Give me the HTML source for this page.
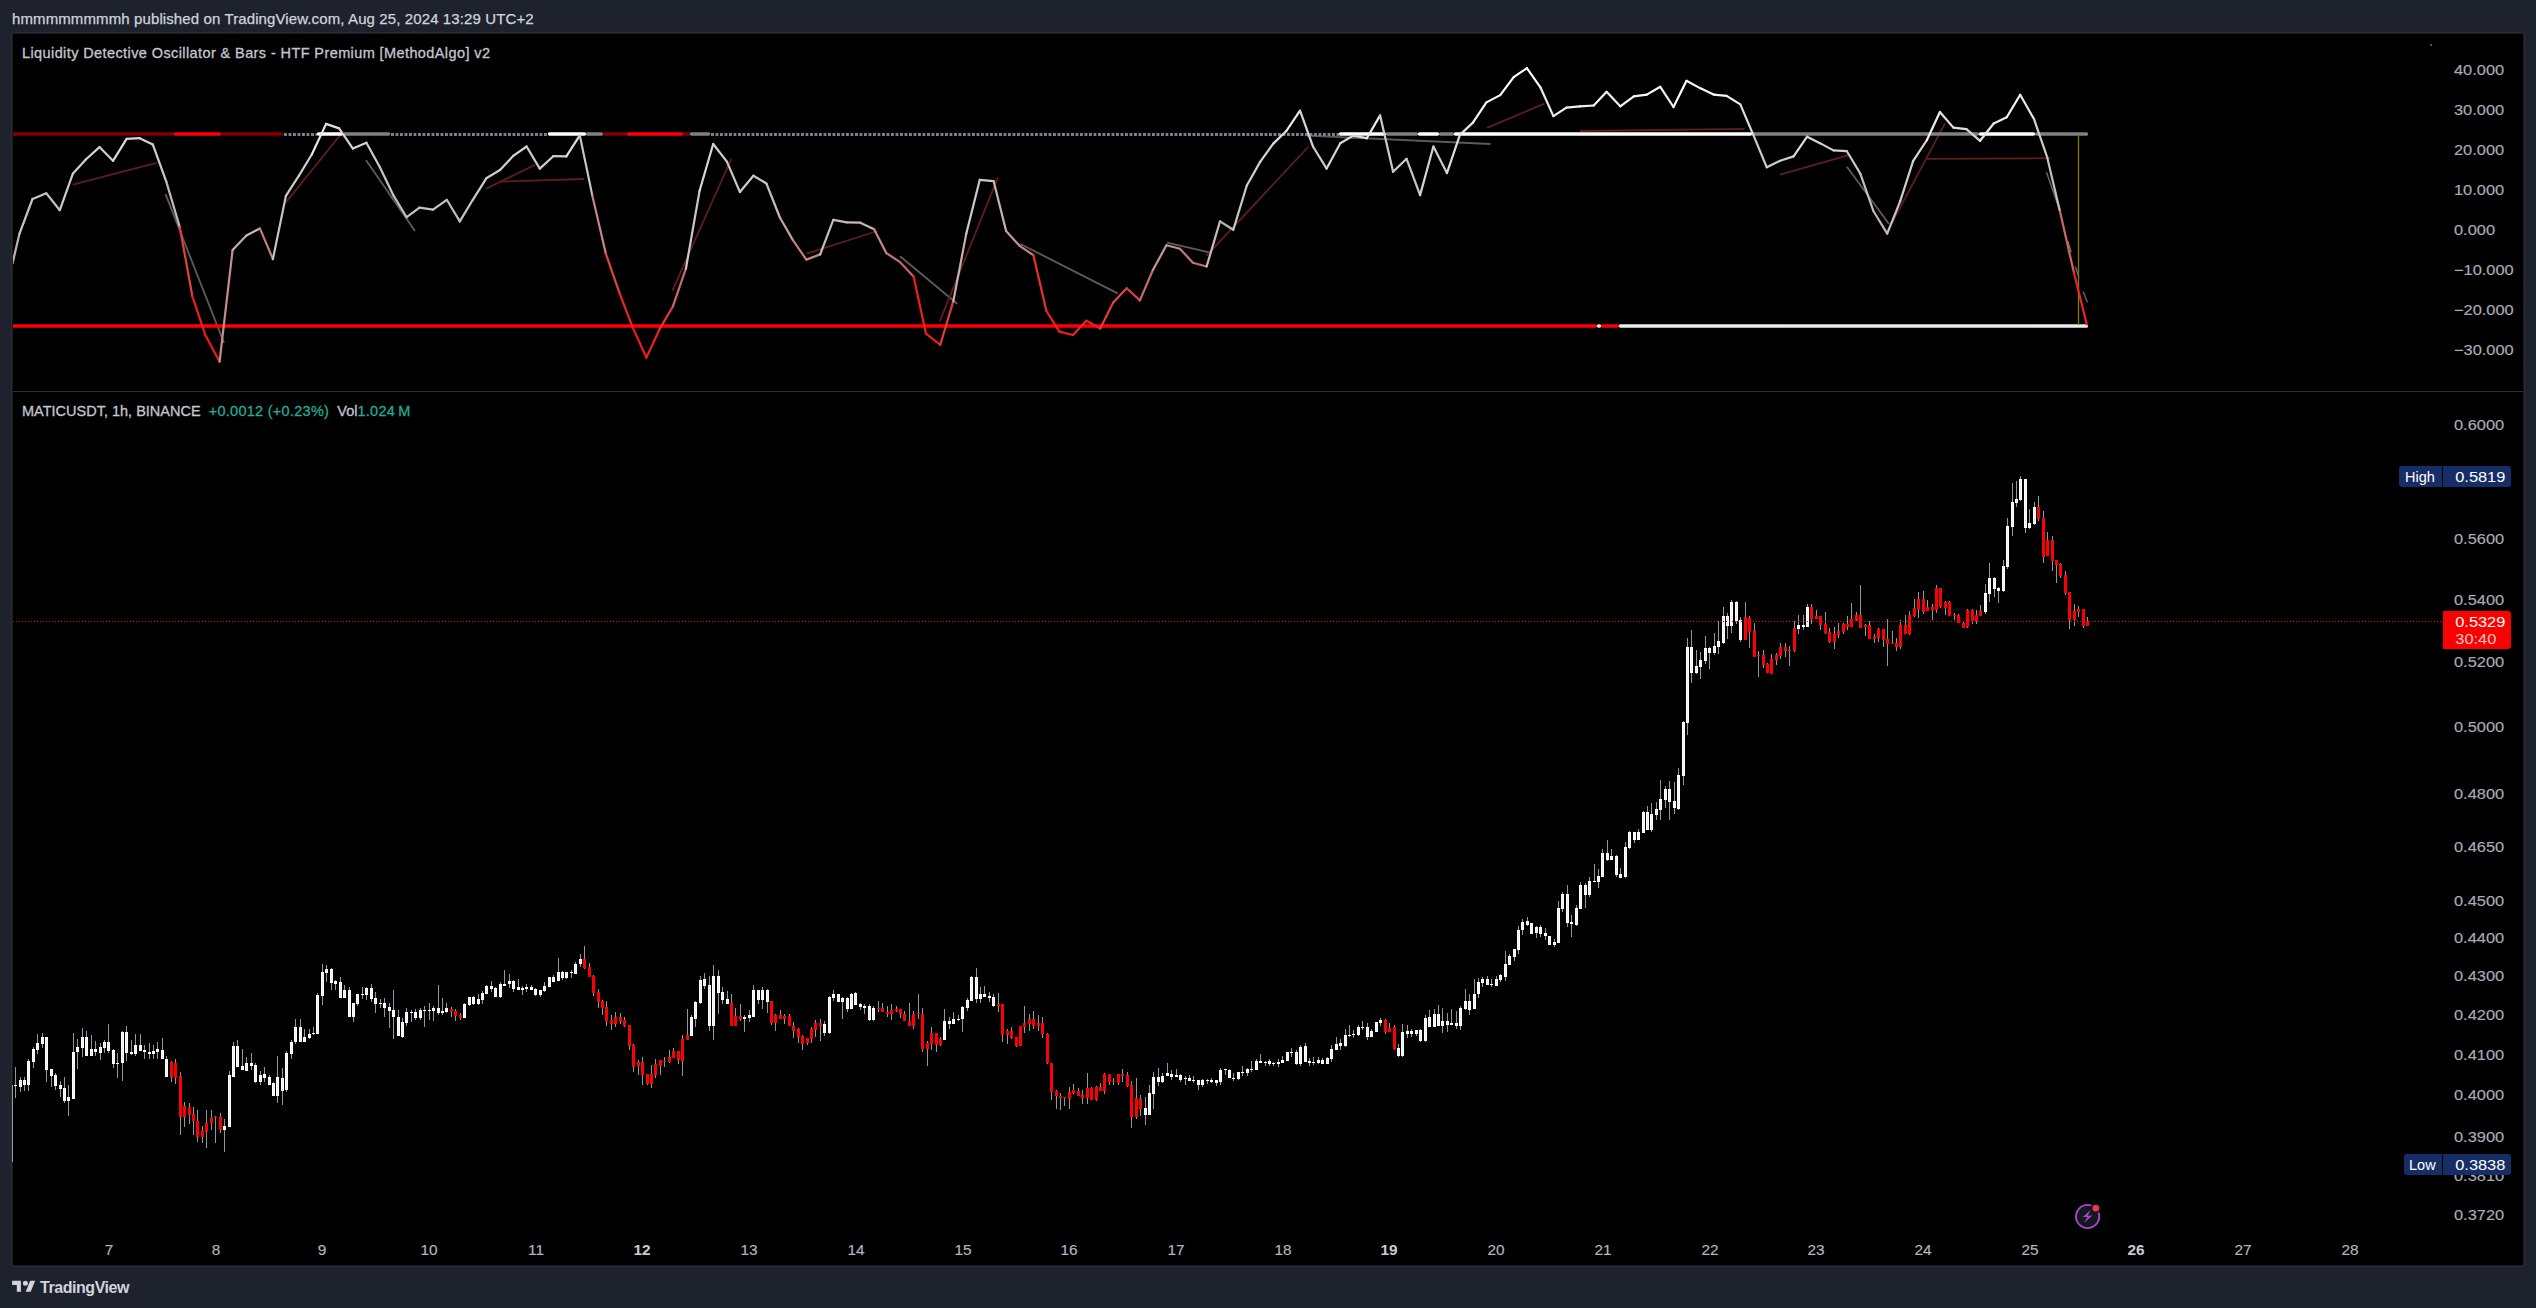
<!DOCTYPE html>
<html><head><meta charset="utf-8"><title>MATICUSDT chart</title>
<style>
html,body{margin:0;padding:0;}
body{width:2536px;height:1308px;background:#1e222d;position:relative;overflow:hidden;font-family:"Liberation Sans",Arial,sans-serif;}
.hdr{position:absolute;left:12px;top:10px;font-size:15px;letter-spacing:0.11px;color:#d1d4dc;white-space:nowrap;line-height:18px;-webkit-text-stroke:0.25px #d1d4dc;}
.frame{position:absolute;left:11px;top:32px;width:2514px;height:1235px;background:#2a2e39;border-radius:3px;}
.inner{position:absolute;left:12px;top:33px;width:2512px;height:1233px;background:#16181e;border-radius:2px;}
.black{position:absolute;left:13px;top:34px;width:2510px;height:1231px;background:#000;}
.sep{position:absolute;left:13px;top:391px;width:2510px;height:1px;background:#2a2e39;}
.chart{position:absolute;left:0;top:0;}
.title{position:absolute;left:22px;top:43.5px;font-size:14.5px;letter-spacing:0.4px;color:#c3c6cf;-webkit-text-stroke:0.3px #c3c6cf;white-space:nowrap;line-height:18px;}
.legend{position:absolute;left:22px;top:402px;font-size:14.5px;color:#c3c6cf;-webkit-text-stroke:0.3px currentColor;white-space:nowrap;line-height:18px;}
.legend .g{color:#22ab94;letter-spacing:0.28px;}
.pl{position:absolute;left:2454.3px;font-size:14.5px;color:#a9acb5;-webkit-text-stroke:0.15px #a9acb5;line-height:18px;white-space:nowrap;transform:scaleX(1.13);transform-origin:0 50%;}
.sx{display:inline-block;transform:scaleX(1.13);transform-origin:100% 50%;}
.tl{position:absolute;top:1241px;width:60px;text-align:center;font-size:14px;transform:scaleX(1.1);color:#b2b5be;-webkit-text-stroke:0.15px #b2b5be;line-height:18px;}
.tl.b{color:#c9ccd4;font-weight:bold;-webkit-text-stroke:0;}
.tag{position:absolute;height:21px;border-radius:3px;font-size:14.5px;line-height:22px;color:#fff;white-space:nowrap;}
.logo{position:absolute;left:12px;top:1279px;height:14px;}
.logot{position:absolute;left:40px;top:1279px;font-size:16px;font-weight:bold;letter-spacing:-0.45px;color:#d1d4dc;line-height:18px;}
</style></head><body>
<div class="hdr">hmmmmmmmmh published on TradingView.com, Aug 25, 2024 13:29 UTC+2</div>
<div class="frame"></div>
<div class="inner"></div>
<div class="black"></div>
<div class="sep"></div>
<svg class="chart" width="2536" height="1308" viewBox="0 0 2536 1308">
<defs><clipPath id="cp1"><rect x="13" y="34" width="2410" height="356"/></clipPath>
<clipPath id="cp2"><rect x="13" y="393" width="2410" height="872"/></clipPath></defs>
<g clip-path="url(#cp1)">
<g stroke-width="1.8" fill="none"><line x1="72.8" y1="184.7" x2="156.7" y2="162.9" stroke="#5e1e1e"/><line x1="165.5" y1="194.1" x2="224" y2="342.8" stroke="#5c5c5c"/><line x1="285.9" y1="202.4" x2="342.5" y2="132.3" stroke="#5e1e1e"/><line x1="365.9" y1="160" x2="415" y2="231" stroke="#5c5c5c"/><line x1="486.3" y1="188.6" x2="535.1" y2="164.7" stroke="#5e1e1e"/><line x1="500" y1="181.6" x2="584" y2="179" stroke="#5e1e1e"/><line x1="672.3" y1="290.8" x2="731.3" y2="159" stroke="#5e1e1e"/><line x1="806.7" y1="253.6" x2="877.4" y2="231" stroke="#5e1e1e"/><line x1="900" y1="256.2" x2="957.2" y2="303.8" stroke="#5c5c5c"/><line x1="939.8" y1="321.4" x2="998" y2="177.2" stroke="#5e1e1e"/><line x1="1020.4" y1="244" x2="1117.6" y2="293.4" stroke="#5c5c5c"/><line x1="1167" y1="242.7" x2="1210.4" y2="252.6" stroke="#5c5c5c"/><line x1="1206.5" y1="255.7" x2="1308.6" y2="146.5" stroke="#5e1e1e"/><line x1="1306.5" y1="135.6" x2="1490.5" y2="144" stroke="#5c5c5c"/><line x1="1487" y1="127.8" x2="1544.3" y2="103.7" stroke="#5e1e1e"/><line x1="1580" y1="131" x2="1744.7" y2="128.9" stroke="#5e1e1e"/><line x1="1780.1" y1="174.6" x2="1849.5" y2="154.9" stroke="#5e1e1e"/><line x1="1846.9" y1="166.8" x2="1889" y2="224" stroke="#5c5c5c"/><line x1="1887.2" y1="231.8" x2="1945.1" y2="123.2" stroke="#5e1e1e"/><line x1="1926.9" y1="158.8" x2="2050.4" y2="158.2" stroke="#5e1e1e"/></g>
<g><line x1="13.5" y1="134" x2="172.5" y2="134" stroke="#800000" stroke-width="3.5" stroke-linecap="round"/><line x1="175.5" y1="134" x2="219.5" y2="134" stroke="#ff0000" stroke-width="3.5" stroke-linecap="round"/><line x1="222.5" y1="134" x2="281.5" y2="134" stroke="#800000" stroke-width="3.5" stroke-linecap="round"/><line x1="284" y1="134.5" x2="317" y2="134.5" stroke="#7d8090" stroke-width="3" stroke-dasharray="2.9 1.6"/><line x1="318.5" y1="134" x2="341.5" y2="134" stroke="#ffffff" stroke-width="3.5" stroke-linecap="round"/><line x1="344.5" y1="134" x2="388.5" y2="134" stroke="#808080" stroke-width="3.5" stroke-linecap="round"/><line x1="391" y1="134.5" x2="548" y2="134.5" stroke="#7d8090" stroke-width="3" stroke-dasharray="2.9 1.6"/><line x1="549.5" y1="134" x2="584.5" y2="134" stroke="#ffffff" stroke-width="3.5" stroke-linecap="round"/><line x1="587.5" y1="134" x2="601.5" y2="134" stroke="#808080" stroke-width="3.5" stroke-linecap="round"/><line x1="604.5" y1="134" x2="625.5" y2="134" stroke="#800000" stroke-width="3.5" stroke-linecap="round"/><line x1="628.5" y1="134" x2="681.5" y2="134" stroke="#ff0000" stroke-width="3.5" stroke-linecap="round"/><line x1="684.5" y1="134" x2="688.5" y2="134" stroke="#800000" stroke-width="3.5" stroke-linecap="round"/><line x1="691.5" y1="134" x2="708.5" y2="134" stroke="#808080" stroke-width="3.5" stroke-linecap="round"/><line x1="711" y1="134.5" x2="1339" y2="134.5" stroke="#7d8090" stroke-width="3" stroke-dasharray="2.9 1.6"/><line x1="1340.5" y1="134" x2="1384.5" y2="134" stroke="#ffffff" stroke-width="3.5" stroke-linecap="round"/><line x1="1387.5" y1="134" x2="1416.5" y2="134" stroke="#808080" stroke-width="3.5" stroke-linecap="round"/><line x1="1419.5" y1="134" x2="1437.5" y2="134" stroke="#ffffff" stroke-width="3.5" stroke-linecap="round"/><line x1="1440.5" y1="134" x2="1452.5" y2="134" stroke="#808080" stroke-width="3.5" stroke-linecap="round"/><line x1="1455.5" y1="134" x2="1750.5" y2="134" stroke="#ffffff" stroke-width="3.5" stroke-linecap="round"/><line x1="1753.5" y1="134" x2="1977.5" y2="134" stroke="#808080" stroke-width="3.5" stroke-linecap="round"/><line x1="1980.5" y1="134" x2="2033.5" y2="134" stroke="#ffffff" stroke-width="3.5" stroke-linecap="round"/><line x1="2036.5" y1="134" x2="2086.5" y2="134" stroke="#808080" stroke-width="3.5" stroke-linecap="round"/></g>
<g><line x1="13.5" y1="326" x2="1595.5" y2="326" stroke="#ff0000" stroke-width="3.5" stroke-linecap="round"/><line x1="1598.5" y1="326" x2="1599.5" y2="326" stroke="#ebebeb" stroke-width="3.5" stroke-linecap="round"/><line x1="1602.5" y1="326" x2="1617.5" y2="326" stroke="#ff0000" stroke-width="3.5" stroke-linecap="round"/><line x1="1620.5" y1="326" x2="2086.5" y2="326" stroke="#ebebeb" stroke-width="3.5" stroke-linecap="round"/></g>
<line x1="2078.5" y1="134" x2="2078.5" y2="325" stroke="#8a7414" stroke-width="1.3"/>
<g stroke="#6a6a6a" stroke-width="1.4"><line x1="2046.5" y1="172.3" x2="2060" y2="211"/><line x1="2067.9" y1="241.2" x2="2071.2" y2="252.2"/><line x1="2075.3" y1="266.5" x2="2079" y2="277.5"/><line x1="2083.2" y1="291.8" x2="2087.4" y2="302.2"/></g>
<g stroke-width="2.2" stroke-linecap="round" fill="none"><line x1="12.5" y1="263.5" x2="19.5" y2="233.6" stroke="rgb(198,175,175)"/><line x1="19.5" y1="233.6" x2="32.5" y2="199" stroke="rgb(200,196,196)"/><line x1="32.5" y1="199" x2="46.3" y2="193.3" stroke="rgb(200,199,199)"/><line x1="46.3" y1="193.3" x2="59.8" y2="210.2" stroke="rgb(199,191,191)"/><line x1="59.8" y1="210.2" x2="72.8" y2="173.8" stroke="rgb(203,203,203)"/><line x1="72.8" y1="173.8" x2="85.8" y2="159.5" stroke="rgb(206,206,206)"/><line x1="85.8" y1="159.5" x2="99.5" y2="147.1" stroke="rgb(210,210,210)"/><line x1="99.5" y1="147.1" x2="113" y2="160.8" stroke="rgb(206,206,206)"/><line x1="113" y1="160.8" x2="126.6" y2="138.8" stroke="rgb(217,217,217)"/><line x1="126.6" y1="138.8" x2="139.6" y2="138.2" stroke="rgb(217,217,217)"/><line x1="139.6" y1="138.2" x2="152.8" y2="144.5" stroke="rgb(212,212,212)"/><line x1="152.8" y1="144.5" x2="166.3" y2="181.6" stroke="rgb(202,202,202)"/><line x1="166.3" y1="181.6" x2="179.8" y2="227.1" stroke="rgb(198,183,183)"/><line x1="179.8" y1="227.1" x2="192.3" y2="296" stroke="rgb(226,63,63)"/><line x1="192.3" y1="296" x2="205.3" y2="335" stroke="rgb(240,29,29)"/><line x1="205.3" y1="335" x2="219.6" y2="361.7" stroke="rgb(240,26,26)"/><line x1="219.6" y1="361.7" x2="232.6" y2="250" stroke="rgb(196,142,142)"/><line x1="232.6" y1="250" x2="246.4" y2="235.4" stroke="rgb(197,171,171)"/><line x1="246.4" y1="235.4" x2="259.9" y2="228.4" stroke="rgb(198,183,183)"/><line x1="259.9" y1="228.4" x2="272.9" y2="259.1" stroke="rgb(195,124,124)"/><line x1="272.9" y1="259.1" x2="285.9" y2="195.9" stroke="rgb(200,197,197)"/><line x1="285.9" y1="195.9" x2="298.9" y2="175.7" stroke="rgb(203,203,203)"/><line x1="298.9" y1="175.7" x2="311.9" y2="154.3" stroke="rgb(207,207,207)"/><line x1="311.9" y1="154.3" x2="326.1" y2="123.9" stroke="rgb(229,229,229)"/><line x1="326.1" y1="123.9" x2="339.1" y2="128.4" stroke="rgb(225,225,225)"/><line x1="339.1" y1="128.4" x2="352.9" y2="148.6" stroke="rgb(209,209,209)"/><line x1="352.9" y1="148.6" x2="366.4" y2="142.7" stroke="rgb(214,214,214)"/><line x1="366.4" y1="142.7" x2="379.9" y2="167.3" stroke="rgb(205,205,205)"/><line x1="379.9" y1="167.3" x2="393.7" y2="195.9" stroke="rgb(200,197,197)"/><line x1="393.7" y1="195.9" x2="406.7" y2="217.2" stroke="rgb(199,188,188)"/><line x1="406.7" y1="217.2" x2="419.5" y2="207.6" stroke="rgb(199,192,192)"/><line x1="419.5" y1="207.6" x2="433" y2="209.7" stroke="rgb(199,191,191)"/><line x1="433" y1="209.7" x2="446.8" y2="199.8" stroke="rgb(200,196,196)"/><line x1="446.8" y1="199.8" x2="459.8" y2="221.4" stroke="rgb(198,186,186)"/><line x1="459.8" y1="221.4" x2="472.8" y2="199.8" stroke="rgb(200,196,196)"/><line x1="472.8" y1="199.8" x2="486.3" y2="178.3" stroke="rgb(202,202,202)"/><line x1="486.3" y1="178.3" x2="500" y2="170" stroke="rgb(204,204,204)"/><line x1="500" y1="170" x2="513.6" y2="155.6" stroke="rgb(207,207,207)"/><line x1="513.6" y1="155.6" x2="526.6" y2="146.5" stroke="rgb(211,211,211)"/><line x1="526.6" y1="146.5" x2="539.8" y2="168.6" stroke="rgb(204,204,204)"/><line x1="539.8" y1="168.6" x2="553.3" y2="156.2" stroke="rgb(207,207,207)"/><line x1="553.3" y1="156.2" x2="566.3" y2="156.4" stroke="rgb(207,207,207)"/><line x1="566.3" y1="156.4" x2="579.8" y2="135.4" stroke="rgb(220,220,220)"/><line x1="579.8" y1="135.4" x2="592.3" y2="195.4" stroke="rgb(200,198,198)"/><line x1="592.3" y1="195.4" x2="605.8" y2="253.6" stroke="rgb(196,135,135)"/><line x1="605.8" y1="253.6" x2="619.6" y2="293.4" stroke="rgb(224,66,66)"/><line x1="619.6" y1="293.4" x2="632.6" y2="327.2" stroke="rgb(239,33,33)"/><line x1="632.6" y1="327.2" x2="646.4" y2="357.6" stroke="rgb(240,26,26)"/><line x1="646.4" y1="357.6" x2="659.9" y2="328.5" stroke="rgb(239,31,31)"/><line x1="659.9" y1="328.5" x2="672.9" y2="306.4" stroke="rgb(230,53,53)"/><line x1="672.9" y1="306.4" x2="685.9" y2="268.7" stroke="rgb(201,106,106)"/><line x1="685.9" y1="268.7" x2="699.6" y2="190.7" stroke="rgb(200,200,200)"/><line x1="699.6" y1="190.7" x2="713.2" y2="144" stroke="rgb(213,213,213)"/><line x1="713.2" y1="144" x2="726.9" y2="161.6" stroke="rgb(206,206,206)"/><line x1="726.9" y1="161.6" x2="739.9" y2="192" stroke="rgb(200,199,199)"/><line x1="739.9" y1="192" x2="753.4" y2="175.7" stroke="rgb(203,203,203)"/><line x1="753.4" y1="175.7" x2="766.4" y2="183.5" stroke="rgb(201,201,201)"/><line x1="766.4" y1="183.5" x2="779.9" y2="217.5" stroke="rgb(199,188,188)"/><line x1="779.9" y1="217.5" x2="792.9" y2="240.1" stroke="rgb(197,162,162)"/><line x1="792.9" y1="240.1" x2="806.3" y2="259.6" stroke="rgb(195,123,123)"/><line x1="806.3" y1="259.6" x2="820.2" y2="254.4" stroke="rgb(196,133,133)"/><line x1="820.2" y1="254.4" x2="833.3" y2="219.8" stroke="rgb(199,187,187)"/><line x1="833.3" y1="219.8" x2="846.8" y2="222.4" stroke="rgb(198,185,185)"/><line x1="846.8" y1="222.4" x2="860.3" y2="222.7" stroke="rgb(198,185,185)"/><line x1="860.3" y1="222.7" x2="874.1" y2="229.2" stroke="rgb(198,182,182)"/><line x1="874.1" y1="229.2" x2="886.3" y2="253.1" stroke="rgb(196,136,136)"/><line x1="886.3" y1="253.1" x2="900.1" y2="262.2" stroke="rgb(195,118,118)"/><line x1="900.1" y1="262.2" x2="913.6" y2="276.5" stroke="rgb(209,93,93)"/><line x1="913.6" y1="276.5" x2="926" y2="333.7" stroke="rgb(240,30,30)"/><line x1="926" y1="333.7" x2="940.3" y2="344.8" stroke="rgb(240,28,28)"/><line x1="940.3" y1="344.8" x2="953.3" y2="301.2" stroke="rgb(228,58,58)"/><line x1="953.3" y1="301.2" x2="966.3" y2="233.6" stroke="rgb(198,175,175)"/><line x1="966.3" y1="233.6" x2="979.8" y2="179.8" stroke="rgb(202,202,202)"/><line x1="979.8" y1="179.8" x2="993.6" y2="181.1" stroke="rgb(202,202,202)"/><line x1="993.6" y1="181.1" x2="1006.1" y2="231" stroke="rgb(198,180,180)"/><line x1="1006.1" y1="231" x2="1019.6" y2="245.8" stroke="rgb(197,150,150)"/><line x1="1019.6" y1="245.8" x2="1033.4" y2="255.2" stroke="rgb(196,132,132)"/><line x1="1033.4" y1="255.2" x2="1046.4" y2="311" stroke="rgb(232,48,48)"/><line x1="1046.4" y1="311" x2="1059.4" y2="331.6" stroke="rgb(240,30,30)"/><line x1="1059.4" y1="331.6" x2="1072.9" y2="335" stroke="rgb(240,29,29)"/><line x1="1072.9" y1="335" x2="1086.4" y2="320.7" stroke="rgb(236,39,39)"/><line x1="1086.4" y1="320.7" x2="1100.2" y2="328.5" stroke="rgb(239,31,31)"/><line x1="1100.2" y1="328.5" x2="1113.2" y2="302.5" stroke="rgb(229,57,57)"/><line x1="1113.2" y1="302.5" x2="1126.7" y2="288.2" stroke="rgb(220,74,74)"/><line x1="1126.7" y1="288.2" x2="1139.9" y2="300.4" stroke="rgb(228,59,59)"/><line x1="1139.9" y1="300.4" x2="1152.9" y2="270" stroke="rgb(202,104,104)"/><line x1="1152.9" y1="270" x2="1166.4" y2="245.3" stroke="rgb(197,151,151)"/><line x1="1166.4" y1="245.3" x2="1179.9" y2="248.7" stroke="rgb(196,145,145)"/><line x1="1179.9" y1="248.7" x2="1192.9" y2="262.7" stroke="rgb(196,117,117)"/><line x1="1192.9" y1="262.7" x2="1206.6" y2="266.5" stroke="rgb(199,110,110)"/><line x1="1206.6" y1="266.5" x2="1220" y2="221.4" stroke="rgb(198,186,186)"/><line x1="1220" y1="221.4" x2="1233.3" y2="229.7" stroke="rgb(198,182,182)"/><line x1="1233.3" y1="229.7" x2="1246.8" y2="185.5" stroke="rgb(201,201,201)"/><line x1="1246.8" y1="185.5" x2="1260.3" y2="161.6" stroke="rgb(206,206,206)"/><line x1="1260.3" y1="161.6" x2="1273.5" y2="143.4" stroke="rgb(213,213,213)"/><line x1="1273.5" y1="143.4" x2="1286.3" y2="131" stroke="rgb(223,223,223)"/><line x1="1286.3" y1="131" x2="1300" y2="110.7" stroke="rgb(239,239,239)"/><line x1="1300" y1="110.7" x2="1313" y2="146.5" stroke="rgb(211,211,211)"/><line x1="1313" y1="146.5" x2="1326.6" y2="168.6" stroke="rgb(204,204,204)"/><line x1="1326.6" y1="168.6" x2="1340.3" y2="143.2" stroke="rgb(213,213,213)"/><line x1="1340.3" y1="143.2" x2="1353.3" y2="135.6" stroke="rgb(220,220,220)"/><line x1="1353.3" y1="135.6" x2="1366.8" y2="138.2" stroke="rgb(217,217,217)"/><line x1="1366.8" y1="138.2" x2="1380.1" y2="115.4" stroke="rgb(236,236,236)"/><line x1="1380.1" y1="115.4" x2="1393.1" y2="171.8" stroke="rgb(204,204,204)"/><line x1="1393.1" y1="171.8" x2="1406.6" y2="158.8" stroke="rgb(206,206,206)"/><line x1="1406.6" y1="158.8" x2="1420.1" y2="195.1" stroke="rgb(200,198,198)"/><line x1="1420.1" y1="195.1" x2="1433.4" y2="146.5" stroke="rgb(211,211,211)"/><line x1="1433.4" y1="146.5" x2="1446.9" y2="173.1" stroke="rgb(203,203,203)"/><line x1="1446.9" y1="173.1" x2="1459.9" y2="134.9" stroke="rgb(220,220,220)"/><line x1="1459.9" y1="134.9" x2="1472.9" y2="122.6" stroke="rgb(230,230,230)"/><line x1="1472.9" y1="122.6" x2="1486.4" y2="102.4" stroke="rgb(243,243,243)"/><line x1="1486.4" y1="102.4" x2="1500.2" y2="95.1" stroke="rgb(246,246,246)"/><line x1="1500.2" y1="95.1" x2="1513.7" y2="77.2" stroke="rgb(252,252,252)"/><line x1="1513.7" y1="77.2" x2="1526.9" y2="68.1" stroke="rgb(255,255,255)"/><line x1="1526.9" y1="68.1" x2="1540.4" y2="87.3" stroke="rgb(249,249,249)"/><line x1="1540.4" y1="87.3" x2="1553.4" y2="116.1" stroke="rgb(235,235,235)"/><line x1="1553.4" y1="116.1" x2="1566.4" y2="107.6" stroke="rgb(241,241,241)"/><line x1="1566.4" y1="107.6" x2="1579.9" y2="106.3" stroke="rgb(241,241,241)"/><line x1="1579.9" y1="106.3" x2="1593.7" y2="105.5" stroke="rgb(242,242,242)"/><line x1="1593.7" y1="105.5" x2="1606.6" y2="91.8" stroke="rgb(247,247,247)"/><line x1="1606.6" y1="91.8" x2="1620.3" y2="106.3" stroke="rgb(241,241,241)"/><line x1="1620.3" y1="106.3" x2="1633.8" y2="96.4" stroke="rgb(245,245,245)"/><line x1="1633.8" y1="96.4" x2="1646.8" y2="94.6" stroke="rgb(246,246,246)"/><line x1="1646.8" y1="94.6" x2="1660.3" y2="86.8" stroke="rgb(249,249,249)"/><line x1="1660.3" y1="86.8" x2="1673.5" y2="107" stroke="rgb(241,241,241)"/><line x1="1673.5" y1="107" x2="1686.5" y2="80.8" stroke="rgb(251,251,251)"/><line x1="1686.5" y1="80.8" x2="1700" y2="88.1" stroke="rgb(248,248,248)"/><line x1="1700" y1="88.1" x2="1713.6" y2="94.6" stroke="rgb(246,246,246)"/><line x1="1713.6" y1="94.6" x2="1726.6" y2="95.9" stroke="rgb(245,245,245)"/><line x1="1726.6" y1="95.9" x2="1740.3" y2="104.4" stroke="rgb(242,242,242)"/><line x1="1740.3" y1="104.4" x2="1753.3" y2="134.9" stroke="rgb(220,220,220)"/><line x1="1753.3" y1="134.9" x2="1766.8" y2="167.3" stroke="rgb(205,205,205)"/><line x1="1766.8" y1="167.3" x2="1780.1" y2="160.8" stroke="rgb(206,206,206)"/><line x1="1780.1" y1="160.8" x2="1793.6" y2="156.4" stroke="rgb(207,207,207)"/><line x1="1793.6" y1="156.4" x2="1807.1" y2="136.7" stroke="rgb(219,219,219)"/><line x1="1807.1" y1="136.7" x2="1820.4" y2="143.4" stroke="rgb(213,213,213)"/><line x1="1820.4" y1="143.4" x2="1833.4" y2="150.4" stroke="rgb(208,208,208)"/><line x1="1833.4" y1="150.4" x2="1846.9" y2="151.2" stroke="rgb(208,208,208)"/><line x1="1846.9" y1="151.2" x2="1860.4" y2="173.8" stroke="rgb(203,203,203)"/><line x1="1860.4" y1="173.8" x2="1873.4" y2="211" stroke="rgb(199,191,191)"/><line x1="1873.4" y1="211" x2="1887.2" y2="233.6" stroke="rgb(198,175,175)"/><line x1="1887.2" y1="233.6" x2="1900.2" y2="201.1" stroke="rgb(199,195,195)"/><line x1="1900.2" y1="201.1" x2="1913.2" y2="160.8" stroke="rgb(206,206,206)"/><line x1="1913.2" y1="160.8" x2="1926.9" y2="140" stroke="rgb(216,216,216)"/><line x1="1926.9" y1="140" x2="1939.9" y2="112" stroke="rgb(238,238,238)"/><line x1="1939.9" y1="112" x2="1953.4" y2="127.6" stroke="rgb(226,226,226)"/><line x1="1953.4" y1="127.6" x2="1966.4" y2="129.1" stroke="rgb(225,225,225)"/><line x1="1966.4" y1="129.1" x2="1980.1" y2="140.8" stroke="rgb(215,215,215)"/><line x1="1980.1" y1="140.8" x2="1993.7" y2="123.5" stroke="rgb(229,229,229)"/><line x1="1993.7" y1="123.5" x2="2006.7" y2="117.2" stroke="rgb(234,234,234)"/><line x1="2006.7" y1="117.2" x2="2020.2" y2="94.8" stroke="rgb(246,246,246)"/><line x1="2020.2" y1="94.8" x2="2034.1" y2="119.3" stroke="rgb(233,233,233)"/><line x1="2034.1" y1="119.3" x2="2047.1" y2="157" stroke="rgb(207,207,207)"/><line x1="2047.1" y1="157" x2="2060" y2="211.5" stroke="rgb(199,190,190)"/><line x1="2060" y1="211.5" x2="2073.6" y2="271.3" stroke="rgb(204,102,102)"/><line x1="2073.6" y1="271.3" x2="2086.8" y2="324.6" stroke="rgb(238,35,35)"/></g>
</g>
<rect x="2430" y="44" width="2" height="2" fill="#50535e"/>
<rect x="12" y="1085" width="1" height="77" fill="#9598a1"/>
<g fill="#d1d4dc"><path d="M12.1 1280.7H20.9V1291.8H16.8V1285H12.1Z"/><circle cx="25.4" cy="1283.3" r="2.5"/><path d="M30.1 1280.7H35.1L30.7 1291.8H25.7Z"/></g>
<g clip-path="url(#cp2)">
<path d="M15 1067h1v31h-1zM20 1077h1v15h-1zM24 1077h1v14h-1zM28 1059h1v32h-1zM33 1047h1v21h-1zM37 1034h1v20h-1zM42 1033h1v15h-1zM46 1037h1v45h-1zM51 1069h1v18h-1zM55 1073h1v17h-1zM60 1081h1v16h-1zM64 1077h1v26h-1zM68 1085h1v31h-1zM73 1033h1v66h-1zM77 1039h1v30h-1zM82 1028h1v29h-1zM86 1031h1v25h-1zM91 1035h1v21h-1zM95 1041h1v15h-1zM100 1043h1v17h-1zM104 1040h1v13h-1zM108 1024h1v29h-1zM113 1049h1v19h-1zM117 1053h1v25h-1zM122 1031h1v50h-1zM126 1026h1v35h-1zM131 1040h1v15h-1zM135 1034h1v22h-1zM140 1034h1v17h-1zM144 1045h1v14h-1zM149 1043h1v16h-1zM153 1045h1v14h-1zM157 1042h1v17h-1zM162 1038h1v21h-1zM166 1056h1v21h-1zM171 1061h1v21h-1zM175 1059h1v25h-1zM180 1072h1v63h-1zM184 1102h1v25h-1zM189 1103h1v21h-1zM193 1107h1v28h-1zM197 1110h1v32h-1zM202 1126h1v17h-1zM206 1110h1v38h-1zM211 1110h1v20h-1zM215 1116h1v27h-1zM220 1113h1v20h-1zM224 1119h1v33h-1zM229 1071h1v56h-1zM233 1042h1v35h-1zM237 1040h1v27h-1zM242 1049h1v21h-1zM246 1057h1v14h-1zM251 1053h1v17h-1zM255 1063h1v20h-1zM260 1071h1v14h-1zM264 1067h1v15h-1zM269 1075h1v10h-1zM273 1082h1v14h-1zM277 1056h1v47h-1zM282 1068h1v37h-1zM286 1051h1v41h-1zM291 1040h1v19h-1zM295 1019h1v25h-1zM300 1019h1v23h-1zM304 1029h1v13h-1zM309 1029h1v10h-1zM313 1027h1v8h-1zM317 993h1v41h-1zM322 964h1v41h-1zM326 965h1v17h-1zM331 968h1v22h-1zM335 980h1v10h-1zM340 977h1v21h-1zM344 985h1v13h-1zM349 987h1v30h-1zM353 1003h1v19h-1zM357 994h1v12h-1zM362 987h1v12h-1zM366 987h1v13h-1zM371 984h1v18h-1zM375 992h1v21h-1zM380 999h1v9h-1zM384 998h1v19h-1zM389 1003h1v25h-1zM393 990h1v49h-1zM398 1010h1v26h-1zM402 1018h1v20h-1zM406 1008h1v18h-1zM411 1010h1v12h-1zM415 1009h1v11h-1zM420 1008h1v12h-1zM424 1006h1v21h-1zM429 1003h1v17h-1zM433 1006h1v15h-1zM438 985h1v30h-1zM442 998h1v17h-1zM446 1003h1v10h-1zM451 1007h1v10h-1zM455 1009h1v12h-1zM460 1013h1v7h-1zM464 1003h1v15h-1zM469 997h1v9h-1zM473 996h1v9h-1zM478 994h1v11h-1zM482 991h1v13h-1zM486 985h1v9h-1zM491 981h1v11h-1zM495 987h1v10h-1zM500 982h1v16h-1zM504 970h1v16h-1zM509 974h1v14h-1zM513 980h1v12h-1zM518 979h1v11h-1zM522 986h1v9h-1zM526 984h1v8h-1zM531 985h1v5h-1zM535 988h1v8h-1zM540 990h1v7h-1zM544 982h1v10h-1zM549 977h1v10h-1zM553 975h1v7h-1zM558 958h1v23h-1zM562 971h1v9h-1zM566 972h1v7h-1zM571 970h1v8h-1zM575 962h1v12h-1zM580 954h1v13h-1zM584 946h1v23h-1zM589 963h1v14h-1zM593 975h1v21h-1zM598 989h1v19h-1zM602 1000h1v15h-1zM606 1001h1v25h-1zM611 1015h1v15h-1zM615 1012h1v15h-1zM620 1013h1v11h-1zM624 1017h1v10h-1zM629 1025h1v25h-1zM633 1044h1v28h-1zM638 1060h1v15h-1zM642 1057h1v28h-1zM647 1074h1v11h-1zM651 1065h1v23h-1zM655 1059h1v19h-1zM660 1060h1v15h-1zM664 1057h1v10h-1zM669 1050h1v13h-1zM673 1048h1v10h-1zM678 1051h1v13h-1zM682 1035h1v41h-1zM687 1009h1v31h-1zM691 1015h1v21h-1zM695 1001h1v26h-1zM700 976h1v28h-1zM704 973h1v16h-1zM709 976h1v55h-1zM713 965h1v75h-1zM718 970h1v44h-1zM722 987h1v17h-1zM727 991h1v13h-1zM731 994h1v32h-1zM735 1008h1v18h-1zM740 1004h1v17h-1zM744 1015h1v17h-1zM749 1010h1v12h-1zM753 985h1v32h-1zM758 990h1v14h-1zM762 987h1v22h-1zM767 989h1v24h-1zM771 1001h1v24h-1zM775 1014h1v17h-1zM780 1010h1v9h-1zM784 1014h1v10h-1zM789 1014h1v12h-1zM793 1022h1v16h-1zM798 1028h1v15h-1zM802 1035h1v15h-1zM807 1038h1v7h-1zM811 1027h1v16h-1zM815 1020h1v17h-1zM820 1019h1v22h-1zM824 1021h1v15h-1zM829 996h1v38h-1zM833 990h1v11h-1zM838 994h1v8h-1zM842 997h1v22h-1zM847 997h1v15h-1zM851 993h1v16h-1zM855 992h1v13h-1zM860 1003h1v7h-1zM864 1004h1v10h-1zM869 1004h1v17h-1zM873 1006h1v15h-1zM878 1001h1v11h-1zM882 1003h1v9h-1zM887 1006h1v11h-1zM891 1004h1v16h-1zM896 1006h1v6h-1zM900 1009h1v9h-1zM904 1011h1v10h-1zM909 1003h1v23h-1zM913 1011h1v18h-1zM918 994h1v25h-1zM922 1008h1v44h-1zM927 1041h1v25h-1zM931 1027h1v23h-1zM936 1033h1v19h-1zM940 1037h1v9h-1zM944 1009h1v31h-1zM949 1017h1v12h-1zM953 1012h1v12h-1zM958 1015h1v6h-1zM962 1006h1v26h-1zM967 998h1v13h-1zM971 976h1v25h-1zM976 968h1v35h-1zM980 987h1v16h-1zM984 986h1v11h-1zM989 992h1v10h-1zM993 994h1v13h-1zM998 993h1v19h-1zM1002 1004h1v38h-1zM1007 1029h1v15h-1zM1011 1027h1v12h-1zM1016 1037h1v10h-1zM1020 1026h1v20h-1zM1024 1006h1v27h-1zM1029 1014h1v17h-1zM1033 1011h1v18h-1zM1038 1015h1v16h-1zM1042 1017h1v21h-1zM1047 1033h1v31h-1zM1051 1063h1v37h-1zM1056 1090h1v19h-1zM1060 1093h1v17h-1zM1064 1097h1v9h-1zM1069 1087h1v22h-1zM1073 1084h1v10h-1zM1078 1088h1v8h-1zM1082 1090h1v14h-1zM1087 1073h1v31h-1zM1091 1087h1v13h-1zM1096 1086h1v15h-1zM1100 1083h1v8h-1zM1104 1073h1v21h-1zM1109 1074h1v11h-1zM1113 1078h1v7h-1zM1118 1074h1v11h-1zM1122 1069h1v13h-1zM1127 1072h1v15h-1zM1131 1081h1v47h-1zM1136 1078h1v41h-1zM1140 1095h1v21h-1zM1145 1097h1v28h-1zM1149 1085h1v30h-1zM1153 1072h1v37h-1zM1158 1068h1v18h-1zM1162 1073h1v10h-1zM1167 1063h1v13h-1zM1171 1070h1v10h-1zM1176 1069h1v8h-1zM1180 1074h1v8h-1zM1185 1076h1v9h-1zM1189 1075h1v6h-1zM1193 1076h1v7h-1zM1198 1080h1v10h-1zM1202 1079h1v8h-1zM1207 1079h1v5h-1zM1211 1078h1v5h-1zM1216 1080h1v6h-1zM1220 1068h1v17h-1zM1225 1069h1v6h-1zM1229 1069h1v9h-1zM1233 1073h1v8h-1zM1238 1072h1v8h-1zM1242 1066h1v10h-1zM1247 1068h1v8h-1zM1251 1061h1v11h-1zM1256 1059h1v11h-1zM1260 1054h1v9h-1zM1265 1061h1v5h-1zM1269 1059h1v7h-1zM1273 1062h1v4h-1zM1278 1059h1v8h-1zM1282 1056h1v7h-1zM1287 1052h1v9h-1zM1291 1048h1v9h-1zM1296 1050h1v15h-1zM1300 1045h1v21h-1zM1305 1043h1v19h-1zM1309 1058h1v8h-1zM1313 1057h1v8h-1zM1318 1057h1v7h-1zM1322 1058h1v6h-1zM1327 1057h1v7h-1zM1331 1045h1v17h-1zM1336 1037h1v13h-1zM1340 1039h1v11h-1zM1345 1029h1v18h-1zM1349 1025h1v12h-1zM1353 1030h1v8h-1zM1358 1025h1v11h-1zM1362 1021h1v9h-1zM1367 1023h1v17h-1zM1371 1029h1v8h-1zM1376 1022h1v10h-1zM1380 1018h1v8h-1zM1385 1019h1v15h-1zM1389 1023h1v9h-1zM1394 1025h1v25h-1zM1398 1044h1v13h-1zM1402 1024h1v33h-1zM1407 1025h1v13h-1zM1411 1029h1v8h-1zM1416 1030h1v6h-1zM1420 1029h1v13h-1zM1425 1015h1v27h-1zM1429 1010h1v17h-1zM1434 1009h1v18h-1zM1438 1005h1v21h-1zM1442 1008h1v25h-1zM1447 1013h1v19h-1zM1451 1009h1v16h-1zM1456 1011h1v18h-1zM1460 1006h1v24h-1zM1465 989h1v21h-1zM1469 994h1v21h-1zM1474 979h1v30h-1zM1478 978h1v20h-1zM1482 977h1v10h-1zM1487 976h1v9h-1zM1491 979h1v8h-1zM1496 976h1v10h-1zM1500 974h1v8h-1zM1505 951h1v30h-1zM1509 954h1v11h-1zM1514 949h1v12h-1zM1518 926h1v28h-1zM1522 919h1v16h-1zM1527 917h1v9h-1zM1531 923h1v11h-1zM1536 926h1v12h-1zM1540 925h1v12h-1zM1545 928h1v12h-1zM1549 936h1v9h-1zM1554 939h1v8h-1zM1558 901h1v42h-1zM1562 892h1v20h-1zM1567 885h1v42h-1zM1571 915h1v22h-1zM1576 905h1v21h-1zM1580 882h1v27h-1zM1585 883h1v25h-1zM1589 877h1v20h-1zM1594 864h1v18h-1zM1598 869h1v19h-1zM1602 849h1v28h-1zM1607 840h1v21h-1zM1611 849h1v11h-1zM1616 855h1v22h-1zM1620 868h1v10h-1zM1625 842h1v36h-1zM1629 831h1v18h-1zM1634 832h1v11h-1zM1638 829h1v11h-1zM1643 811h1v22h-1zM1647 806h1v24h-1zM1651 803h1v29h-1zM1656 802h1v18h-1zM1660 780h1v40h-1zM1665 786h1v22h-1zM1669 781h1v39h-1zM1674 782h1v32h-1zM1678 768h1v42h-1zM1683 721h1v64h-1zM1687 638h1v97h-1zM1691 630h1v53h-1zM1696 650h1v24h-1zM1700 652h1v27h-1zM1705 636h1v28h-1zM1709 647h1v22h-1zM1714 633h1v22h-1zM1718 621h1v33h-1zM1723 607h1v37h-1zM1727 613h1v26h-1zM1731 600h1v33h-1zM1736 601h1v23h-1zM1740 617h1v25h-1zM1745 602h1v38h-1zM1749 616h1v32h-1zM1754 623h1v34h-1zM1758 651h1v26h-1zM1763 650h1v18h-1zM1767 663h1v10h-1zM1771 654h1v20h-1zM1776 653h1v12h-1zM1780 643h1v16h-1zM1785 643h1v14h-1zM1789 646h1v20h-1zM1794 621h1v31h-1zM1798 615h1v19h-1zM1803 615h1v15h-1zM1807 604h1v23h-1zM1811 604h1v20h-1zM1816 610h1v9h-1zM1820 616h1v14h-1zM1825 612h1v22h-1zM1829 628h1v15h-1zM1834 627h1v22h-1zM1838 623h1v15h-1zM1843 623h1v11h-1zM1847 616h1v14h-1zM1851 603h1v24h-1zM1856 612h1v9h-1zM1860 585h1v43h-1zM1865 624h1v12h-1zM1869 621h1v18h-1zM1874 634h1v9h-1zM1878 628h1v14h-1zM1883 629h1v18h-1zM1887 619h1v47h-1zM1892 631h1v13h-1zM1896 638h1v13h-1zM1900 620h1v29h-1zM1905 615h1v19h-1zM1909 611h1v24h-1zM1914 599h1v18h-1zM1918 592h1v26h-1zM1923 591h1v23h-1zM1927 600h1v11h-1zM1932 604h1v16h-1zM1936 585h1v28h-1zM1940 588h1v20h-1zM1945 601h1v14h-1zM1949 601h1v15h-1zM1954 613h1v7h-1zM1958 614h1v9h-1zM1963 621h1v7h-1zM1967 609h1v19h-1zM1972 609h1v15h-1zM1976 610h1v14h-1zM1980 605h1v11h-1zM1985 584h1v30h-1zM1989 563h1v39h-1zM1994 577h1v20h-1zM1998 587h1v16h-1zM2003 560h1v32h-1zM2007 518h1v51h-1zM2012 483h1v53h-1zM2016 481h1v26h-1zM2020 476h1v25h-1zM2025 479h1v54h-1zM2029 509h1v20h-1zM2034 502h1v23h-1zM2038 496h1v25h-1zM2043 511h1v52h-1zM2047 532h1v24h-1zM2052 536h1v35h-1zM2056 560h1v23h-1zM2060 563h1v15h-1zM2065 571h1v24h-1zM2069 592h1v37h-1zM2074 604h1v22h-1zM2078 606h1v11h-1zM2083 609h1v19h-1zM2087 617h1v9h-1z" fill="#9196a1"/>
<path d="M14 1085h3v1h-3zM19 1080h3v7h-3zM23 1080h3v5h-3zM27 1061h3v24h-3zM32 1049h3v13h-3zM36 1043h3v7h-3zM41 1037h3v7h-3zM45 1037h3v33h-3zM50 1069h3v7h-3zM54 1075h3v11h-3zM59 1085h3v4h-3zM63 1088h3v13h-3zM67 1097h3v4h-3zM72 1052h3v47h-3zM76 1047h3v5h-3zM81 1037h3v11h-3zM85 1037h3v19h-3zM90 1049h3v7h-3zM94 1049h3v3h-3zM99 1047h3v6h-3zM103 1042h3v6h-3zM107 1042h3v9h-3zM112 1050h3v14h-3zM116 1063h3v1h-3zM121 1032h3v31h-3zM125 1032h3v21h-3zM130 1052h3v2h-3zM134 1045h3v9h-3zM139 1045h3v6h-3zM143 1050h3v2h-3zM148 1052h3v2h-3zM152 1051h3v3h-3zM156 1049h3v3h-3zM161 1050h3v9h-3zM165 1059h3v18h-3zM223 1126h3v4h-3zM228 1075h3v52h-3zM232 1046h3v31h-3zM236 1046h3v21h-3zM241 1066h3v4h-3zM245 1063h3v8h-3zM250 1063h3v3h-3zM254 1065h3v17h-3zM259 1075h3v7h-3zM263 1074h3v4h-3zM268 1077h3v8h-3zM272 1083h3v13h-3zM276 1077h3v19h-3zM281 1078h3v13h-3zM285 1053h3v37h-3zM290 1042h3v12h-3zM294 1027h3v15h-3zM299 1027h3v15h-3zM303 1037h3v5h-3zM308 1034h3v4h-3zM312 1033h3v1h-3zM316 995h3v39h-3zM321 972h3v24h-3zM325 969h3v4h-3zM330 969h3v14h-3zM334 981h3v3h-3zM339 982h3v16h-3zM343 990h3v8h-3zM348 990h3v27h-3zM352 1003h3v14h-3zM356 994h3v10h-3zM361 994h3v1h-3zM365 988h3v7h-3zM370 988h3v11h-3zM374 998h3v6h-3zM379 1003h3v1h-3zM383 1003h3v5h-3zM388 1007h3v4h-3zM392 1010h3v7h-3zM397 1017h3v19h-3zM401 1022h3v15h-3zM405 1012h3v11h-3zM410 1012h3v1h-3zM414 1012h3v6h-3zM419 1010h3v8h-3zM423 1010h3v1h-3zM428 1010h3v1h-3zM432 1008h3v3h-3zM437 1008h3v5h-3zM441 1011h3v2h-3zM445 1008h3v4h-3zM463 1004h3v14h-3zM468 997h3v8h-3zM472 997h3v7h-3zM477 999h3v5h-3zM481 993h3v7h-3zM485 986h3v8h-3zM490 986h3v3h-3zM494 988h3v9h-3zM499 984h3v13h-3zM503 984h3v2h-3zM508 981h3v3h-3zM512 981h3v8h-3zM517 987h3v3h-3zM521 988h3v2h-3zM525 987h3v2h-3zM530 987h3v3h-3zM534 989h3v6h-3zM539 990h3v5h-3zM543 986h3v5h-3zM548 977h3v10h-3zM552 977h3v5h-3zM557 972h3v9h-3zM561 972h3v6h-3zM565 972h3v6h-3zM570 972h3v1h-3zM574 964h3v10h-3zM579 959h3v5h-3zM690 1017h3v19h-3zM694 1002h3v17h-3zM699 980h3v23h-3zM703 979h3v7h-3zM708 985h3v41h-3zM712 976h3v50h-3zM717 976h3v17h-3zM721 992h3v8h-3zM726 999h3v5h-3zM743 1017h3v2h-3zM748 1015h3v3h-3zM752 990h3v27h-3zM757 990h3v10h-3zM761 990h3v10h-3zM766 990h3v12h-3zM823 1024h3v9h-3zM828 997h3v36h-3zM832 994h3v4h-3zM837 994h3v8h-3zM841 998h3v4h-3zM846 998h3v11h-3zM850 994h3v15h-3zM854 993h3v12h-3zM859 1004h3v3h-3zM863 1006h3v2h-3zM868 1006h3v14h-3zM872 1008h3v12h-3zM943 1021h3v19h-3zM948 1021h3v3h-3zM952 1019h3v5h-3zM957 1019h3v1h-3zM961 1007h3v12h-3zM966 1000h3v8h-3zM970 977h3v24h-3zM975 977h3v22h-3zM979 994h3v5h-3zM983 994h3v3h-3zM988 996h3v2h-3zM992 997h3v9h-3zM1144 1108h3v7h-3zM1148 1093h3v22h-3zM1152 1077h3v17h-3zM1157 1077h3v5h-3zM1161 1076h3v6h-3zM1166 1073h3v3h-3zM1170 1074h3v3h-3zM1175 1075h3v2h-3zM1179 1075h3v5h-3zM1184 1078h3v1h-3zM1188 1078h3v3h-3zM1192 1080h3v1h-3zM1197 1080h3v5h-3zM1201 1080h3v5h-3zM1206 1080h3v1h-3zM1210 1080h3v2h-3zM1215 1080h3v3h-3zM1219 1070h3v12h-3zM1224 1069h3v1h-3zM1228 1070h3v8h-3zM1232 1078h3v1h-3zM1237 1072h3v7h-3zM1241 1072h3v1h-3zM1246 1069h3v4h-3zM1250 1069h3v1h-3zM1255 1061h3v9h-3zM1259 1061h3v2h-3zM1264 1062h3v1h-3zM1268 1061h3v3h-3zM1272 1063h3v1h-3zM1277 1062h3v2h-3zM1281 1060h3v3h-3zM1286 1052h3v9h-3zM1290 1052h3v1h-3zM1295 1052h3v12h-3zM1299 1047h3v17h-3zM1304 1046h3v16h-3zM1308 1061h3v2h-3zM1312 1062h3v1h-3zM1317 1060h3v3h-3zM1321 1060h3v4h-3zM1326 1058h3v6h-3zM1330 1049h3v10h-3zM1335 1044h3v6h-3zM1339 1043h3v3h-3zM1344 1035h3v11h-3zM1348 1035h3v1h-3zM1352 1034h3v1h-3zM1357 1027h3v8h-3zM1361 1027h3v1h-3zM1366 1027h3v10h-3zM1370 1031h3v6h-3zM1375 1022h3v10h-3zM1379 1020h3v3h-3zM1397 1048h3v8h-3zM1401 1032h3v24h-3zM1406 1031h3v3h-3zM1410 1031h3v3h-3zM1415 1030h3v4h-3zM1419 1030h3v11h-3zM1424 1018h3v23h-3zM1428 1017h3v10h-3zM1433 1014h3v13h-3zM1437 1014h3v12h-3zM1441 1021h3v5h-3zM1446 1021h3v4h-3zM1450 1023h3v2h-3zM1455 1023h3v3h-3zM1459 1008h3v18h-3zM1464 1001h3v8h-3zM1468 1001h3v9h-3zM1473 994h3v15h-3zM1477 982h3v12h-3zM1481 979h3v4h-3zM1486 979h3v6h-3zM1490 984h3v1h-3zM1495 979h3v7h-3zM1499 975h3v5h-3zM1504 964h3v13h-3zM1508 956h3v9h-3zM1513 949h3v8h-3zM1517 930h3v20h-3zM1521 922h3v8h-3zM1526 921h3v4h-3zM1530 923h3v11h-3zM1535 927h3v6h-3zM1539 927h3v7h-3zM1544 933h3v3h-3zM1548 936h3v9h-3zM1553 942h3v3h-3zM1557 908h3v35h-3zM1561 894h3v15h-3zM1566 894h3v29h-3zM1570 922h3v2h-3zM1575 908h3v17h-3zM1579 885h3v24h-3zM1584 885h3v10h-3zM1588 881h3v14h-3zM1593 881h3v1h-3zM1597 876h3v6h-3zM1601 853h3v24h-3zM1606 853h3v7h-3zM1610 856h3v4h-3zM1615 856h3v19h-3zM1619 874h3v4h-3zM1624 847h3v30h-3zM1628 832h3v16h-3zM1633 832h3v8h-3zM1637 832h3v8h-3zM1642 812h3v21h-3zM1646 812h3v18h-3zM1650 814h3v16h-3zM1655 809h3v6h-3zM1659 799h3v11h-3zM1664 789h3v11h-3zM1668 789h3v13h-3zM1673 801h3v7h-3zM1677 775h3v34h-3zM1682 722h3v54h-3zM1686 647h3v76h-3zM1690 647h3v26h-3zM1695 666h3v7h-3zM1699 660h3v7h-3zM1704 648h3v13h-3zM1708 648h3v5h-3zM1713 646h3v7h-3zM1717 641h3v6h-3zM1722 616h3v27h-3zM1726 616h3v10h-3zM1730 602h3v24h-3zM1735 602h3v19h-3zM1739 620h3v20h-3zM1797 625h3v4h-3zM1802 625h3v2h-3zM1806 607h3v20h-3zM1984 593h3v19h-3zM1988 578h3v16h-3zM1993 578h3v11h-3zM1997 588h3v3h-3zM2002 566h3v25h-3zM2006 526h3v41h-3zM2011 502h3v25h-3zM2015 499h3v4h-3zM2019 479h3v21h-3zM2024 479h3v49h-3zM2028 523h3v5h-3zM2033 507h3v17h-3z" fill="#ffffff"/>
<path d="M20 1081h1v5h-1zM24 1081h1v3h-1zM28 1062h1v22h-1zM33 1050h1v11h-1zM37 1044h1v5h-1zM42 1038h1v5h-1zM46 1038h1v31h-1zM51 1070h1v5h-1zM55 1076h1v9h-1zM60 1086h1v2h-1zM64 1089h1v11h-1zM68 1098h1v2h-1zM73 1053h1v45h-1zM77 1048h1v3h-1zM82 1038h1v9h-1zM86 1038h1v17h-1zM91 1050h1v5h-1zM95 1050h1v1h-1zM100 1048h1v4h-1zM104 1043h1v4h-1zM108 1043h1v7h-1zM113 1051h1v12h-1zM122 1033h1v29h-1zM126 1033h1v19h-1zM135 1046h1v7h-1zM140 1046h1v4h-1zM153 1052h1v1h-1zM157 1050h1v1h-1zM162 1051h1v7h-1zM166 1060h1v16h-1zM224 1127h1v2h-1zM229 1076h1v50h-1zM233 1047h1v29h-1zM237 1047h1v19h-1zM242 1067h1v2h-1zM246 1064h1v6h-1zM251 1064h1v1h-1zM255 1066h1v15h-1zM260 1076h1v5h-1zM264 1075h1v2h-1zM269 1078h1v6h-1zM273 1084h1v11h-1zM277 1078h1v17h-1zM282 1079h1v11h-1zM286 1054h1v35h-1zM291 1043h1v10h-1zM295 1028h1v13h-1zM300 1028h1v13h-1zM304 1038h1v3h-1zM309 1035h1v2h-1zM317 996h1v37h-1zM322 973h1v22h-1zM326 970h1v2h-1zM331 970h1v12h-1zM335 982h1v1h-1zM340 983h1v14h-1zM344 991h1v6h-1zM349 991h1v25h-1zM353 1004h1v12h-1zM357 995h1v8h-1zM366 989h1v5h-1zM371 989h1v9h-1zM375 999h1v4h-1zM384 1004h1v3h-1zM389 1008h1v2h-1zM393 1011h1v5h-1zM398 1018h1v17h-1zM402 1023h1v13h-1zM406 1013h1v9h-1zM415 1013h1v4h-1zM420 1011h1v6h-1zM433 1009h1v1h-1zM438 1009h1v3h-1zM446 1009h1v2h-1zM464 1005h1v12h-1zM469 998h1v6h-1zM473 998h1v5h-1zM478 1000h1v3h-1zM482 994h1v5h-1zM486 987h1v6h-1zM491 987h1v1h-1zM495 989h1v7h-1zM500 985h1v11h-1zM509 982h1v1h-1zM513 982h1v6h-1zM518 988h1v1h-1zM531 988h1v1h-1zM535 990h1v4h-1zM540 991h1v3h-1zM544 987h1v3h-1zM549 978h1v8h-1zM553 978h1v3h-1zM558 973h1v7h-1zM562 973h1v4h-1zM566 973h1v4h-1zM575 965h1v8h-1zM580 960h1v3h-1zM691 1018h1v17h-1zM695 1003h1v15h-1zM700 981h1v21h-1zM704 980h1v5h-1zM709 986h1v39h-1zM713 977h1v48h-1zM718 977h1v15h-1zM722 993h1v6h-1zM727 1000h1v3h-1zM749 1016h1v1h-1zM753 991h1v25h-1zM758 991h1v8h-1zM762 991h1v8h-1zM767 991h1v10h-1zM824 1025h1v7h-1zM829 998h1v34h-1zM833 995h1v2h-1zM838 995h1v6h-1zM842 999h1v2h-1zM847 999h1v9h-1zM851 995h1v13h-1zM855 994h1v10h-1zM860 1005h1v1h-1zM869 1007h1v12h-1zM873 1009h1v10h-1zM944 1022h1v17h-1zM949 1022h1v1h-1zM953 1020h1v3h-1zM962 1008h1v10h-1zM967 1001h1v6h-1zM971 978h1v22h-1zM976 978h1v20h-1zM980 995h1v3h-1zM984 995h1v1h-1zM993 998h1v7h-1zM1145 1109h1v5h-1zM1149 1094h1v20h-1zM1153 1078h1v15h-1zM1158 1078h1v3h-1zM1162 1077h1v4h-1zM1167 1074h1v1h-1zM1171 1075h1v1h-1zM1180 1076h1v3h-1zM1189 1079h1v1h-1zM1198 1081h1v3h-1zM1202 1081h1v3h-1zM1216 1081h1v1h-1zM1220 1071h1v10h-1zM1229 1071h1v6h-1zM1238 1073h1v5h-1zM1247 1070h1v2h-1zM1256 1062h1v7h-1zM1269 1062h1v1h-1zM1282 1061h1v1h-1zM1287 1053h1v7h-1zM1296 1053h1v10h-1zM1300 1048h1v15h-1zM1305 1047h1v14h-1zM1318 1061h1v1h-1zM1322 1061h1v2h-1zM1327 1059h1v4h-1zM1331 1050h1v8h-1zM1336 1045h1v4h-1zM1340 1044h1v1h-1zM1345 1036h1v9h-1zM1358 1028h1v6h-1zM1367 1028h1v8h-1zM1371 1032h1v4h-1zM1376 1023h1v8h-1zM1380 1021h1v1h-1zM1398 1049h1v6h-1zM1402 1033h1v22h-1zM1407 1032h1v1h-1zM1411 1032h1v1h-1zM1416 1031h1v2h-1zM1420 1031h1v9h-1zM1425 1019h1v21h-1zM1429 1018h1v8h-1zM1434 1015h1v11h-1zM1438 1015h1v10h-1zM1442 1022h1v3h-1zM1447 1022h1v2h-1zM1456 1024h1v1h-1zM1460 1009h1v16h-1zM1465 1002h1v6h-1zM1469 1002h1v7h-1zM1474 995h1v13h-1zM1478 983h1v10h-1zM1482 980h1v2h-1zM1487 980h1v4h-1zM1496 980h1v5h-1zM1500 976h1v3h-1zM1505 965h1v11h-1zM1509 957h1v7h-1zM1514 950h1v6h-1zM1518 931h1v18h-1zM1522 923h1v6h-1zM1527 922h1v2h-1zM1531 924h1v9h-1zM1536 928h1v4h-1zM1540 928h1v5h-1zM1545 934h1v1h-1zM1549 937h1v7h-1zM1554 943h1v1h-1zM1558 909h1v33h-1zM1562 895h1v13h-1zM1567 895h1v27h-1zM1576 909h1v15h-1zM1580 886h1v22h-1zM1585 886h1v8h-1zM1589 882h1v12h-1zM1598 877h1v4h-1zM1602 854h1v22h-1zM1607 854h1v5h-1zM1611 857h1v2h-1zM1616 857h1v17h-1zM1620 875h1v2h-1zM1625 848h1v28h-1zM1629 833h1v14h-1zM1634 833h1v6h-1zM1638 833h1v6h-1zM1643 813h1v19h-1zM1647 813h1v16h-1zM1651 815h1v14h-1zM1656 810h1v4h-1zM1660 800h1v9h-1zM1665 790h1v9h-1zM1669 790h1v11h-1zM1674 802h1v5h-1zM1678 776h1v32h-1zM1683 723h1v52h-1zM1687 648h1v74h-1zM1691 648h1v24h-1zM1696 667h1v5h-1zM1700 661h1v5h-1zM1705 649h1v11h-1zM1709 649h1v3h-1zM1714 647h1v5h-1zM1718 642h1v4h-1zM1723 617h1v25h-1zM1727 617h1v8h-1zM1731 603h1v22h-1zM1736 603h1v17h-1zM1740 621h1v18h-1zM1798 626h1v2h-1zM1807 608h1v18h-1zM1985 594h1v17h-1zM1989 579h1v14h-1zM1994 579h1v9h-1zM1998 589h1v1h-1zM2003 567h1v23h-1zM2007 527h1v39h-1zM2012 503h1v23h-1zM2016 500h1v2h-1zM2020 480h1v19h-1zM2025 480h1v47h-1zM2029 524h1v3h-1zM2034 508h1v15h-1z" fill="#eeeeee"/>
<path d="M170 1062h3v15h-3zM174 1063h3v15h-3zM179 1076h3v41h-3zM183 1106h3v11h-3zM188 1107h3v8h-3zM192 1114h3v7h-3zM196 1121h3v16h-3zM201 1131h3v6h-3zM205 1123h3v9h-3zM210 1118h3v5h-3zM214 1117h3v1h-3zM219 1117h3v13h-3zM450 1009h3v3h-3zM454 1011h3v5h-3zM459 1015h3v3h-3zM583 959h3v9h-3zM588 967h3v10h-3zM592 976h3v17h-3zM597 992h3v10h-3zM601 1001h3v7h-3zM605 1007h3v14h-3zM610 1020h3v4h-3zM614 1017h3v7h-3zM619 1017h3v4h-3zM623 1020h3v6h-3zM628 1025h3v21h-3zM632 1045h3v22h-3zM637 1062h3v4h-3zM641 1062h3v13h-3zM646 1074h3v10h-3zM650 1074h3v10h-3zM654 1064h3v11h-3zM659 1060h3v6h-3zM663 1061h3v1h-3zM668 1057h3v5h-3zM672 1051h3v7h-3zM677 1051h3v9h-3zM681 1039h3v22h-3zM686 1035h3v5h-3zM730 1003h3v23h-3zM734 1016h3v10h-3zM739 1016h3v3h-3zM770 1001h3v22h-3zM774 1015h3v8h-3zM779 1015h3v4h-3zM783 1016h3v3h-3zM788 1016h3v10h-3zM792 1026h3v5h-3zM797 1029h3v8h-3zM801 1036h3v8h-3zM806 1038h3v5h-3zM810 1029h3v10h-3zM814 1023h3v7h-3zM819 1023h3v3h-3zM877 1008h3v1h-3zM881 1008h3v4h-3zM886 1012h3v2h-3zM890 1010h3v4h-3zM895 1009h3v2h-3zM899 1009h3v5h-3zM903 1014h3v7h-3zM908 1021h3v5h-3zM912 1014h3v12h-3zM917 1013h3v1h-3zM921 1014h3v35h-3zM926 1043h3v6h-3zM930 1033h3v11h-3zM935 1033h3v12h-3zM939 1039h3v6h-3zM997 1004h3v2h-3zM1001 1004h3v31h-3zM1006 1031h3v4h-3zM1010 1031h3v7h-3zM1015 1037h3v9h-3zM1019 1026h3v20h-3zM1023 1023h3v4h-3zM1028 1019h3v5h-3zM1032 1019h3v7h-3zM1037 1023h3v3h-3zM1041 1023h3v11h-3zM1046 1034h3v29h-3zM1050 1063h3v29h-3zM1055 1091h3v5h-3zM1059 1096h3v2h-3zM1063 1097h3v1h-3zM1068 1092h3v7h-3zM1072 1090h3v3h-3zM1077 1091h3v5h-3zM1081 1095h3v3h-3zM1086 1088h3v10h-3zM1090 1088h3v12h-3zM1095 1087h3v13h-3zM1099 1087h3v4h-3zM1103 1074h3v17h-3zM1108 1074h3v8h-3zM1112 1081h3v1h-3zM1117 1074h3v9h-3zM1121 1074h3v2h-3zM1126 1075h3v11h-3zM1130 1085h3v32h-3zM1135 1098h3v19h-3zM1139 1099h3v10h-3zM1384 1020h3v12h-3zM1388 1028h3v4h-3zM1393 1027h3v22h-3zM1744 617h3v23h-3zM1748 618h3v14h-3zM1753 631h3v26h-3zM1757 655h3v1h-3zM1762 655h3v10h-3zM1766 664h3v9h-3zM1770 659h3v15h-3zM1775 655h3v5h-3zM1779 647h3v9h-3zM1784 647h3v4h-3zM1788 650h3v1h-3zM1793 628h3v23h-3zM1810 607h3v12h-3zM1815 616h3v3h-3zM1819 616h3v9h-3zM1824 624h3v9h-3zM1828 632h3v10h-3zM1833 634h3v8h-3zM1837 631h3v4h-3zM1842 624h3v8h-3zM1846 624h3v3h-3zM1850 619h3v8h-3zM1855 615h3v5h-3zM1859 615h3v13h-3zM1864 625h3v2h-3zM1868 625h3v14h-3zM1873 637h3v2h-3zM1877 629h3v9h-3zM1882 629h3v11h-3zM1886 639h3v5h-3zM1891 643h3v1h-3zM1895 643h3v4h-3zM1899 625h3v22h-3zM1904 625h3v9h-3zM1908 615h3v19h-3zM1913 608h3v8h-3zM1917 599h3v10h-3zM1922 599h3v13h-3zM1926 607h3v4h-3zM1931 607h3v3h-3zM1935 588h3v22h-3zM1939 588h3v19h-3zM1944 602h3v6h-3zM1948 602h3v14h-3zM1953 615h3v1h-3zM1957 615h3v8h-3zM1962 623h3v5h-3zM1966 610h3v17h-3zM1971 610h3v11h-3zM1975 615h3v6h-3zM1979 611h3v5h-3zM2037 507h3v12h-3zM2042 518h3v39h-3zM2046 540h3v16h-3zM2051 540h3v21h-3zM2055 560h3v5h-3zM2059 564h3v12h-3zM2064 575h3v18h-3zM2068 592h3v28h-3zM2073 611h3v9h-3zM2077 609h3v3h-3zM2082 609h3v17h-3zM2086 621h3v5h-3z" fill="#ff0000"/>
</g>
<line x1="13" y1="621.5" x2="2443" y2="621.5" stroke="#ff0000" stroke-width="1" stroke-dasharray="1 2"/>
<g>
</g>
<g transform="translate(2087.6 1216.5)">
<circle r="11.6" fill="#131722" stroke="#ab47bc" stroke-width="1.9"/>
<circle cx="8.2" cy="-8.3" r="5.3" fill="#131722"/>
<circle cx="8.2" cy="-8.3" r="3.3" fill="#f23645"/>
<polygon points="2.9,-6.4 -4.8,0.6 -0.2,0.6 -3.7,6.4 4.9,-0.9 0.3,-0.8" fill="#ab47bc"/>
</g>
</svg>
<div class="title">Liquidity Detective Oscillator &amp; Bars - HTF Premium [MethodAlgo] v2</div>
<div class="legend">MATICUSDT, 1h, BINANCE&nbsp; <span class="g">+0.0012 (+0.23%)</span>&nbsp; Vol<span class="g">1.024&#8201;M</span></div>
<div class="pl" style="top:61.0px">40.000</div><div class="pl" style="top:101.0px">30.000</div><div class="pl" style="top:141.0px">20.000</div><div class="pl" style="top:181.0px">10.000</div><div class="pl" style="top:221.0px">0.000</div><div class="pl" style="top:261.0px">−10.000</div><div class="pl" style="top:301.0px">−20.000</div><div class="pl" style="top:341.0px">−30.000</div><div class="pl" style="top:416.0px">0.6000</div><div class="pl" style="top:530.0px">0.5600</div><div class="pl" style="top:591.0px">0.5400</div><div class="pl" style="top:652.5px">0.5200</div><div class="pl" style="top:718.0px">0.5000</div><div class="pl" style="top:785.0px">0.4800</div><div class="pl" style="top:837.8px">0.4650</div><div class="pl" style="top:892.2px">0.4500</div><div class="pl" style="top:929.0px">0.4400</div><div class="pl" style="top:966.7px">0.4300</div><div class="pl" style="top:1006.0px">0.4200</div><div class="pl" style="top:1046.3px">0.4100</div><div class="pl" style="top:1086.3px">0.4000</div><div class="pl" style="top:1127.8px">0.3900</div><div class="pl" style="top:1167.4px">0.3810</div><div class="pl" style="top:1205.6px">0.3720</div><div class="tl" style="left:78.8px">7</div><div class="tl" style="left:185.5px">8</div><div class="tl" style="left:292.2px">9</div><div class="tl" style="left:398.9px">10</div><div class="tl" style="left:505.7px">11</div><div class="tl b" style="left:612.4px">12</div><div class="tl" style="left:719.1px">13</div><div class="tl" style="left:825.8px">14</div><div class="tl" style="left:932.5px">15</div><div class="tl" style="left:1039.2px">16</div><div class="tl" style="left:1145.9px">17</div><div class="tl" style="left:1252.6px">18</div><div class="tl b" style="left:1359.4px">19</div><div class="tl" style="left:1466.1px">20</div><div class="tl" style="left:1572.8px">21</div><div class="tl" style="left:1679.5px">22</div><div class="tl" style="left:1786.2px">23</div><div class="tl" style="left:1892.9px">24</div><div class="tl" style="left:1999.6px">25</div><div class="tl b" style="left:2106.4px">26</div><div class="tl" style="left:2213.1px">27</div><div class="tl" style="left:2319.8px">28</div>
<div class="tag" style="left:2399px;top:466px;width:112px;background:#172d66;"><span style="position:absolute;left:6px;">High</span><span style="position:absolute;left:43px;top:0;width:1px;height:21px;background:#000;"></span><span class="sx" style="position:absolute;right:6px;">0.5819</span></div>
<div class="tag" style="left:2404px;top:1154px;width:107px;background:#172d66;"><span style="position:absolute;left:5px;">Low</span><span style="position:absolute;left:38px;top:0;width:1px;height:21px;background:#000;"></span><span class="sx" style="position:absolute;right:6px;">0.3838</span></div>
<div class="tag" style="left:2443px;top:611px;width:68px;height:38px;background:#fa0000;line-height:17px;border-radius:0 3px 3px 0;"><span class="sx" style="position:absolute;right:6px;top:3px;">0.5329</span><span class="sx" style="position:absolute;right:15px;top:20px;color:#ffc8c8;">30:40</span></div>
<div class="logot">TradingView</div>
</body></html>
